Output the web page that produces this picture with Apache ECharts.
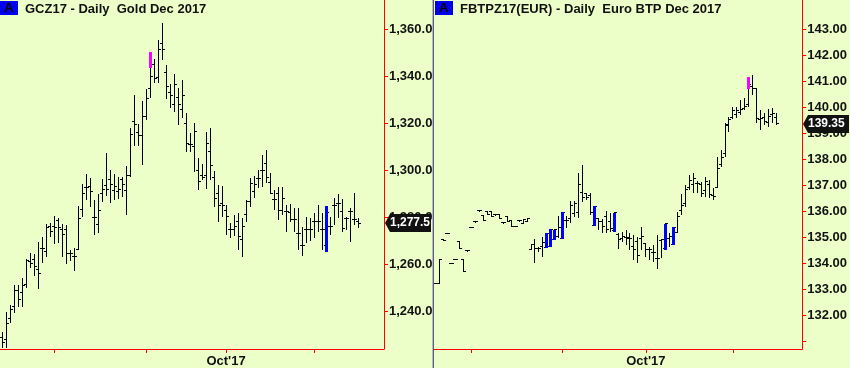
<!DOCTYPE html>
<html><head><meta charset="utf-8">
<script src="https://cdn.jsdelivr.net/npm/echarts@6/dist/echarts.min.js"></script>
<style>html,body{margin:0;padding:0;background:#edffc8;overflow:hidden}#c{width:850px;height:368px}</style>
</head><body><div id="c"></div><script>
// ---------- Gold Dec 2017 (GCZ17), daily OHLC ----------
const goldOpen  = [1229.0,1228.0,1237.0,1242.0,1248.8,1247.9,1251.2,1261.1,1262.1,1258.0,1266.8,1265.4,1276.3,1276.0,1278.8,1275.0,1275.0,1264.7,1263.2,1266.1,1283.4,1292.7,1293.0,1280.0,1277.1,1290.2,1293.7,1296.3,1291.6,1290.9,1296.3,1291.6,1298.0,1320.7,1316.0,1314.7,1323.0,1335.0,1345.1,1339.4,1354.0,1341.7,1333.0,1328.1,1331.0,1325.7,1320.0,1311.0,1310.0,1300.0,1298.0,1298.0,1308.0,1297.0,1290.0,1286.0,1283.0,1274.9,1274.9,1278.1,1270.6,1281.0,1286.6,1290.9,1296.6,1300.1,1303.0,1295.0,1287.4,1290.0,1283.1,1282.4,1282.0,1278.9,1273.2,1268.2,1274.6,1274.6,1278.1,1278.1,1274.6,1268.0,1276.3,1285.2,1286.0,1282.4,1279.6,1282.4,1278.9,1278.1];
const goldHigh  = [1231.0,1239.8,1242.7,1251.2,1251.2,1254.0,1262.1,1264.9,1264.4,1269.6,1271.7,1277.1,1277.7,1280.5,1279.5,1277.1,1276.7,1266.1,1266.8,1284.8,1294.2,1298.4,1296.6,1287.3,1289.8,1296.3,1307.2,1300.1,1298.4,1297.0,1297.3,1301.8,1318.1,1332.0,1319.6,1329.5,1334.6,1350.2,1347.4,1355.4,1362.6,1344.8,1336.6,1340.9,1335.1,1338.4,1324.3,1315.7,1320.3,1305.1,1302.6,1316.4,1317.9,1299.7,1293.7,1293.3,1285.2,1277.4,1281.0,1282.0,1279.6,1287.4,1296.6,1297.6,1300.1,1306.5,1308.6,1298.7,1291.6,1293.0,1293.0,1285.2,1285.7,1283.8,1283.8,1276.0,1280.3,1279.6,1281.7,1285.2,1281.7,1284.8,1280.3,1288.1,1289.9,1287.7,1280.3,1283.8,1290.5,1279.6];
const goldLow   = [1224.2,1224.2,1234.9,1239.1,1242.0,1241.7,1249.8,1258.3,1255.2,1249.3,1260.4,1263.3,1271.7,1268.5,1268.9,1263.0,1260.0,1261.4,1257.3,1266.1,1280.3,1287.3,1284.2,1272.5,1273.2,1286.6,1289.1,1286.2,1287.3,1287.6,1288.8,1281.0,1297.3,1310.5,1310.5,1302.3,1321.4,1330.9,1337.0,1337.3,1346.9,1330.3,1326.6,1324.7,1319.3,1322.1,1307.9,1307.9,1299.4,1291.6,1295.9,1292.0,1296.0,1284.5,1278.1,1280.3,1272.5,1271.1,1272.0,1266.1,1263.0,1278.1,1284.5,1288.1,1292.3,1293.0,1294.5,1290.2,1283.1,1278.9,1281.0,1273.9,1278.1,1273.9,1266.1,1263.5,1269.2,1270.0,1271.1,1273.9,1266.1,1265.8,1272.5,1276.7,1279.6,1273.9,1274.6,1269.6,1276.7,1275.3];
const goldClose = [1226.6,1234.9,1240.8,1248.8,1245.0,1251.0,1261.5,1260.5,1259.0,1256.1,1266.8,1275.6,1273.9,1275.6,1275.6,1272.7,1264.7,1264.7,1263.2,1279.5,1290.2,1292.7,1290.9,1280.0,1283.1,1292.0,1291.9,1294.0,1293.0,1292.0,1294.0,1298.0,1315.4,1319.3,1314.7,1322.8,1330.6,1339.8,1339.1,1351.2,1351.5,1335.6,1332.0,1336.3,1327.8,1332.0,1311.5,1311.0,1316.4,1295.1,1297.0,1311.5,1302.0,1288.1,1285.2,1285.2,1280.3,1274.9,1276.0,1272.0,1276.0,1286.6,1294.5,1294.0,1296.6,1300.1,1297.0,1290.2,1287.4,1283.1,1288.0,1282.4,1278.9,1278.9,1273.2,1268.2,1274.6,1274.6,1278.1,1278.1,1274.6,1282.0,1276.3,1285.2,1286.0,1275.3,1279.6,1282.4,1278.9,1277.5];
const goldMagenta = [[37, 1350.2, 1344.1]];      // [bar, top, bottom]
const goldBlueBars = [81];
const goldLast = 1277.5;
const goldYTicks = [1240, 1260, 1280, 1300, 1320, 1340, 1360];
const goldMonthTicks = [13, 36, 56, 78];
const goldMonthLabelAt = [56];

// ---------- Euro BTP Dec 2017 (FBTPZ17), daily OHLC ----------
const btpOpen  = [133.22,133.22,134.91,135.14,133.99,134.14,134.82,134.12,134.47,135.37,135.59,136.00,135.81,135.97,135.97,135.85,135.88,135.55,135.78,135.65,135.42,135.63,135.53,135.59,134.50,134.70,134.56,134.63,134.60,134.65,134.91,135.00,134.96,135.65,135.72,135.91,135.94,136.71,136.68,136.60,135.46,135.72,135.60,135.80,135.60,135.24,135.08,134.95,134.99,134.95,134.63,134.82,134.95,134.76,134.50,134.40,134.18,134.88,134.54,134.95,134.73,135.17,136.00,136.30,136.90,137.00,137.04,137.00,136.80,137.00,136.60,136.90,137.80,138.20,139.30,139.60,139.70,139.80,139.95,140.10,140.80,140.70,139.50,139.60,139.40,139.70,139.60];
const btpHigh  = [133.22,134.14,134.91,135.14,133.99,134.14,134.82,134.12,134.47,135.37,135.59,136.00,135.81,135.97,135.97,135.85,135.88,135.55,135.78,135.65,135.42,135.63,135.68,135.72,134.73,134.91,134.63,134.99,135.14,135.30,135.27,135.81,135.96,135.81,136.40,136.40,137.47,137.77,136.71,136.71,136.19,135.72,135.68,136.01,135.91,135.94,135.14,135.20,135.27,135.14,135.08,134.99,135.40,134.76,134.63,134.69,135.08,134.91,135.50,135.14,135.37,135.95,136.65,137.00,137.38,137.45,137.17,137.13,137.29,137.19,136.87,138.06,138.35,139.37,139.63,140.01,140.01,140.27,140.33,141.17,141.23,140.72,139.88,139.76,139.91,139.95,139.76];
const btpLow   = [133.22,133.22,134.85,135.14,133.99,134.14,134.56,133.67,134.47,135.37,135.59,136.00,135.65,135.88,135.78,135.85,135.72,135.55,135.59,135.42,135.42,135.63,135.53,135.59,134.50,134.01,134.44,134.24,134.60,134.65,134.91,134.95,134.96,135.33,135.53,135.78,135.72,136.36,136.42,135.85,135.46,135.27,135.14,135.17,135.20,135.24,134.53,134.82,134.69,134.50,134.12,133.99,134.50,134.24,134.12,134.05,133.76,134.18,134.54,134.63,134.73,135.14,135.85,136.17,136.81,136.68,136.68,136.55,136.55,136.49,136.42,136.87,137.68,138.09,139.05,139.53,139.56,139.69,139.88,140.01,140.46,139.37,139.12,139.31,139.24,139.37,139.31];
const btpClose = [133.22,134.14,134.85,135.14,133.99,134.14,134.56,133.67,134.47,135.37,135.59,136.00,135.65,135.88,135.78,135.85,135.72,135.55,135.59,135.42,135.42,135.63,135.68,135.72,134.73,134.56,134.56,134.80,135.14,135.30,135.27,135.37,135.96,135.65,136.20,136.30,137.00,136.50,136.50,135.94,136.19,135.59,135.40,135.27,135.33,135.94,134.90,135.00,134.99,134.95,134.50,134.27,135.00,134.50,134.50,134.40,134.18,134.90,135.50,135.00,135.37,135.78,136.23,136.81,137.19,137.25,137.04,136.68,137.13,136.65,136.55,137.64,138.06,139.31,139.53,139.88,139.88,139.91,140.01,140.85,140.72,139.56,139.56,139.44,139.63,139.76,139.35];
const btpMagenta = [[79, 141.17, 140.72]];
const btpBlueBars = [28, 29, 30, 32, 40, 45, 58, 60];
const btpLast = 139.35;
const btpYTicks = [131, 132, 133, 134, 135, 136, 137, 138, 139, 140, 141, 142, 143];
const btpYLabels = [132, 133, 134, 135, 136, 137, 138, 139, 140, 141, 142, 143];
const btpMonthTicks = [9, 32, 53, 75];
const btpMonthLabelAt = [53];

const monthLabel = "Oct'17";
const goldTitle = 'GCZ17 - Daily  Gold Dec 2017';
const btpTitle = 'FBTPZ17(EUR) - Daily  Euro BTP Dec 2017';

// ---------- rendering ----------
const RED = '#ff0000', INK = '#111111', BG = '#edffc8';
const FONT = '"Liberation Sans", Arial, sans-serif';

function ohlcData(o, h, l, c) { return o.map((v, i) => [i, v, h[i], l[i], c[i]]); }
function paintData(list) { return list.map(p => [p[0], p[1], p[2]]); }
function blueData(idx, h, l) { return idx.map(i => [i, h[i], l[i]]); }

function renderOHLC(params, api) {
  const i = api.value(0);
  const pO = api.coord([i, api.value(1)]);
  const pH = api.coord([i, api.value(2)]);
  const pL = api.coord([i, api.value(3)]);
  const pC = api.coord([i, api.value(4)]);
  const n = Math.floor(pO[0]);
  const xh = n + 0.5;
  const yH = Math.round(pH[1]);
  const yL = Math.max(Math.round(pL[1]), yH + 1);
  const yO = Math.floor(pO[1]) + 0.5;
  const yC = Math.floor(pC[1]) + 0.5;
  const st = { stroke: '#000', lineWidth: 1 };
  return { type: 'group', children: [
    { type: 'line', shape: { x1: xh, y1: yH, x2: xh, y2: yL }, style: st },
    { type: 'line', shape: { x1: n - 2, y1: yO, x2: n + 1, y2: yO }, style: st },
    { type: 'line', shape: { x1: n, y1: yC, x2: n + 3, y2: yC }, style: st }
  ]};
}
function renderPaint(color) {
  return function (params, api) {
    const i = api.value(0);
    const pT = api.coord([i, api.value(1)]);
    const pB = api.coord([i, api.value(2)]);
    const n = Math.floor(pT[0]);
    const yT = Math.round(pT[1]), yB = Math.round(pB[1]) + 1;
    return { type: 'rect', shape: { x: n - 1, y: yT, width: 3, height: yB - yT }, style: { fill: color } };
  };
}

function xAxisCfg(grid, min, max, ticks, labelAt) {
  return {
    gridIndex: grid, type: 'value', min: min, max: max,
    axisLine: { show: true, onZero: false, lineStyle: { color: RED, width: 1 } },
    axisTick: { show: true, customValues: ticks, length: 4, inside: false, lineStyle: { color: RED } },
    axisLabel: { show: true, customValues: labelAt, formatter: () => monthLabel, margin: 6,
      color: INK, fontWeight: 'bold', fontSize: 13, fontFamily: FONT },
    splitLine: { show: false }
  };
}
function yAxisCfg(grid, min, max, ticks, labels, fmt) {
  return {
    gridIndex: grid, type: 'value', position: 'right', min: min, max: max,
    axisLine: { show: true, onZero: false, lineStyle: { color: RED, width: 1 } },
    axisTick: { show: true, customValues: ticks, length: 4, lineStyle: { color: RED } },
    axisLabel: { show: true, customValues: labels, formatter: fmt, margin: 5,
      color: INK, fontWeight: 'bold', fontSize: 13, fontFamily: FONT },
    splitLine: { show: false }
  };
}

const chart = echarts.init(document.getElementById('c'), null, { renderer: 'canvas' });
chart.setOption({
  animation: false,
  backgroundColor: BG,
  grid: [
    { left: 0, top: 0, width: 384, height: 349 },
    { left: 434, top: 0, width: 372, height: 349 }
  ],
  xAxis: [
    xAxisCfg(0, -0.5, 95.5, goldMonthTicks, goldMonthLabelAt),
    xAxisCfg(1, -0.5, 92.5, btpMonthTicks, btpMonthLabelAt)
  ],
  yAxis: [
    yAxisCfg(0, 1223.96, 1372.47, goldYTicks, goldYTicks,
      v => v.toLocaleString('en-US', { minimumFractionDigits: 1, maximumFractionDigits: 1 })),
    yAxisCfg(1, 130.692, 144.115, btpYTicks, btpYLabels, v => v.toFixed(2))
  ],
  series: [
    { type: 'custom', xAxisIndex: 0, yAxisIndex: 0, renderItem: renderOHLC, clip: true,
      data: ohlcData(goldOpen, goldHigh, goldLow, goldClose) },
    { type: 'custom', xAxisIndex: 0, yAxisIndex: 0, renderItem: renderPaint('#ff00ff'), clip: true,
      data: paintData(goldMagenta) },
    { type: 'custom', xAxisIndex: 0, yAxisIndex: 0, renderItem: renderPaint('#0000ff'), clip: true,
      data: blueData(goldBlueBars, goldHigh, goldLow) },
    { type: 'custom', xAxisIndex: 1, yAxisIndex: 1, renderItem: renderOHLC, clip: true,
      data: ohlcData(btpOpen, btpHigh, btpLow, btpClose) },
    { type: 'custom', xAxisIndex: 1, yAxisIndex: 1, renderItem: renderPaint('#ff00ff'), clip: true,
      data: paintData(btpMagenta) },
    { type: 'custom', xAxisIndex: 1, yAxisIndex: 1, renderItem: renderPaint('#0000ff'), clip: true,
      data: blueData(btpBlueBars, btpHigh, btpLow) }
  ]
});

function priceTag(gridIdx, xMaxVal, value, text, w) {
  const p = chart.convertToPixel({ xAxisIndex: gridIdx, yAxisIndex: gridIdx }, [xMaxVal, value]);
  const x0 = Math.round(p[0]) + 1, yc = Math.round(p[1]);
  const h = 9;
  return [
    { type: 'polygon', z: 100,
      shape: { points: [[x0, yc], [x0 + 5, yc - h], [x0 + w, yc - h], [x0 + w, yc + h], [x0 + 5, yc + h]] },
      style: { fill: '#111111' } },
    { type: 'text', z: 101, x: x0 + 5, y: yc, style: { text: text, fill: '#ffffff', font: 'bold 12px ' + FONT,
      verticalAlign: 'middle' } }
  ];
}
function titleBlock(x, text) {
  return [
    { type: 'rect', shape: { x: x, y: 1, width: 18, height: 14 }, style: { fill: '#0000ee' } },
    { type: 'text', x: x + 4, y: 8, style: { text: 'A', fill: '#000', font: 'bold 13px ' + FONT, verticalAlign: 'middle' } },
    { type: 'text', x: x + 25, y: 9, style: { text: text, fill: INK, font: 'bold 13px ' + FONT, verticalAlign: 'middle' } }
  ];
}

chart.setOption({
  graphic: [
    { type: 'rect', shape: { x: 432, y: 0, width: 1, height: 368 }, style: { fill: '#b4b8c8' } },
    { type: 'rect', shape: { x: 433, y: 0, width: 1, height: 368 }, style: { fill: '#5c6078' } },
    ...titleBlock(0, goldTitle),
    ...titleBlock(435, btpTitle),
    ...priceTag(0, 95.5, goldLast, goldLast.toLocaleString('en-US', { minimumFractionDigits: 1 }), 46),
    ...priceTag(1, 92.5, btpLast, btpLast.toFixed(2), 46)
  ]
});
</script></body></html>
